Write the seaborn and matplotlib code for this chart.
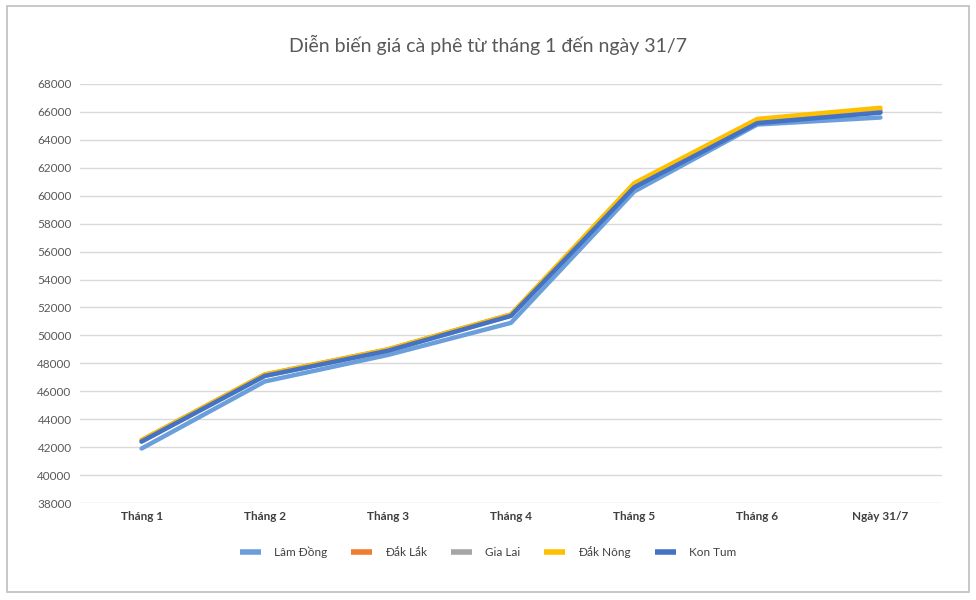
import pandas as pd
import matplotlib
matplotlib.use("Agg")
import matplotlib.pyplot as plt
import seaborn as sns
from matplotlib.patches import Rectangle

months = ['Tháng 1', 'Tháng 2', 'Tháng 3', 'Tháng 4', 'Tháng 5', 'Tháng 6', 'Ngày 31/7']

lam_dong = [41900, 46700, 48600, 50900, 60300, 65100, 65600]
dak_lak = [42500, 47200, 49000, 51500, 60800, 65400, 66100]
gia_lai = [42400, 47100, 48900, 51400, 60700, 65300, 66000]
dak_nong = [42500, 47200, 49000, 51500, 60900, 65500, 66300]
kon_tum = [42400, 47100, 48900, 51400, 60600, 65200, 65950]

series = {
    'Lâm Đồng': lam_dong,
    'Đắk Lắk': dak_lak,
    'Gia Lai': gia_lai,
    'Đắk Nông': dak_nong,
    'Kon Tum': kon_tum,
}
COLOR = ['#6A9FDB', '#ED7D31', '#A5A5A5', '#FFC000', '#4472C4']

rows = []
for name, vals in series.items():
    for i, v in enumerate(vals):
        rows.append({'pos': i, 'month': months[i], 'province': name, 'price': v})
df = pd.DataFrame(rows)

sns.set_style('white')
plt.rcParams['font.family'] = ['Lato', 'DejaVu Sans']

fig = plt.figure(figsize=(9.76, 6), dpi=100)
ax = fig.add_axes([80 / 976, 1 - 503 / 600, 862 / 976, 419 / 600])

sns.lineplot(data=df, x='pos', y='price', hue='province',
             hue_order=list(series.keys()), palette=COLOR,
             linewidth=3.2, ax=ax, legend=False)

ax.set_xlim(-0.5, len(months) - 0.5)
ax.set_ylim(38000, 68000)
ax.set_yticks(range(38000, 68001, 2000))
ax.set_xticks(range(len(months)))
ax.set_xticklabels(months)
ax.tick_params(axis='y', labelsize=8.5, labelcolor='#595959', length=0, pad=6)
ax.tick_params(axis='x', labelsize=8.5, labelcolor='#404040', length=0, pad=6)
for lbl in ax.get_xticklabels():
    lbl.set_fontweight('bold')
ax.grid(axis='y', color='#D9D9D9', linewidth=1)
ax.grid(axis='x', visible=False)
for s in ax.spines.values():
    s.set_visible(False)
ax.set_xlabel('')
ax.set_ylabel('')

fig.text(0.5, 1 - 45 / 600, 'Diễn biến giá cà phê từ tháng 1 đến ngày 31/7',
         ha='center', va='center', fontsize=14, color='#595959')

handles = [plt.Line2D([], [], color=c, linewidth=4, solid_capstyle='butt') for c in COLOR]
fig.legend(handles, list(series.keys()), loc='center', ncol=5,
           bbox_to_anchor=(0.5, 1 - 552 / 600), frameon=False,
           fontsize=8.5, handlelength=1.8, handletextpad=1.1,
           columnspacing=2.0, labelcolor='#404040')

fig.patches.append(Rectangle((7 / 976, 1 - 592 / 600), 962 / 976, 586 / 600,
                             transform=fig.transFigure, fill=False,
                             edgecolor='#BFBFBF', linewidth=1.2))

fig.savefig('out.png', dpi=100)
